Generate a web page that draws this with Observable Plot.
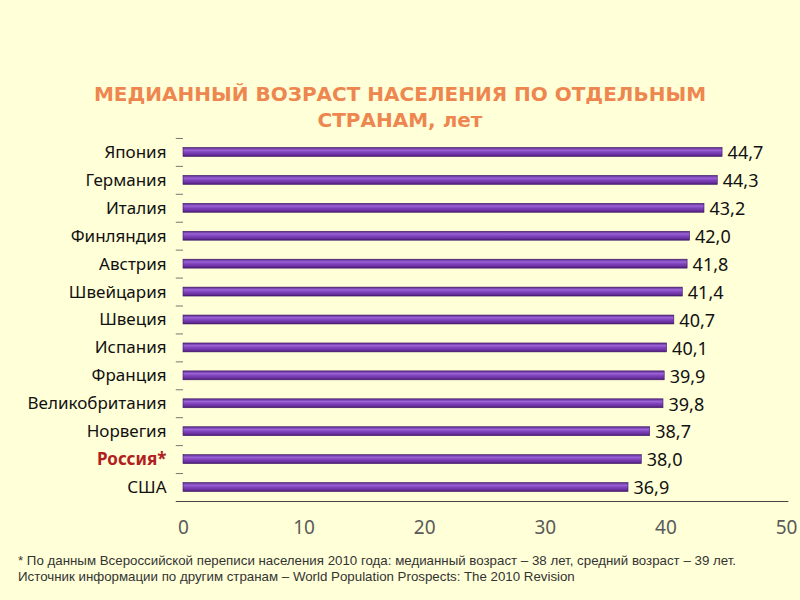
<!DOCTYPE html>
<html><head><meta charset="utf-8">
<script src="https://cdn.jsdelivr.net/npm/d3@7"></script>
<script src="https://cdn.jsdelivr.net/npm/@observablehq/plot@0.6"></script>
<style>
html,body{margin:0;padding:0;}
#wrap{position:relative;width:800px;height:600px;background:#FFFFD8;overflow:hidden;font-family:"Noto Sans",sans-serif;}
#title{position:absolute;left:0;top:81px;width:800px;text-align:center;font-family:"DejaVu Sans",sans-serif;font-weight:bold;font-size:20px;line-height:26px;color:#EE8650;}
#chart{position:absolute;left:0;top:0;}
#note{position:absolute;left:18px;top:553px;font-family:"Liberation Sans",Arial,sans-serif;font-size:13.3px;line-height:16px;color:#333;}
</style></head><body>
<div id="wrap">
<div id="title">МЕДИАННЫЙ ВОЗРАСТ НАСЕЛЕНИЯ ПО ОТДЕЛЬНЫМ<br>СТРАНАМ, лет</div>
<div id="chart"></div>
<div id="note">* По данным Всероссийской переписи населения 2010 года: медианный возраст – 38 лет, средний возраст – 39 лет.<br>Источник информации по другим странам – World Population Prospects: The 2010 Revision</div>
</div>
<script>
const countries = ["Япония","Германия","Италия","Финляндия","Австрия","Швейцария","Швеция","Испания","Франция","Великобритания","Норвегия","Россия*","США"];
const values = [44.7,44.3,43.2,42.0,41.8,41.4,40.7,40.1,39.9,39.8,38.7,38.0,36.9];
const xTicks = [0,10,20,30,40,50];
const highlight = "Россия*";

const data = countries.map((c,i)=>({country:c, value:values[i]}));
const fmt = v => v.toFixed(1).replace(".", ",");
const last = countries[countries.length-1];

const plot = Plot.plot({
  width: 800, height: 600,
  marginLeft: 183, marginRight: 14, marginTop: 138, marginBottom: 99,
  style: {background: "transparent", fontFamily: "Noto Sans, sans-serif"},
  x: {domain: [0,50], label: null},
  y: {domain: countries, padding: 0, round: false, axis: null},
  marks: [
    Plot.axisX({ticks: xTicks, tickSize: 0, tickPadding: 19, label: null, fontSize: 19, color: "#5a5a5a", tickFormat: d=>d}),
    Plot.ruleY(countries, {y: d=>d, x1: -0.6, x2: 0, dy: -14, stroke: "#777", strokeWidth: 1}),
    Plot.ruleY([last], {y: d=>d, x1: -0.6, x2: 50.2, dy: 14, stroke: "#444", strokeWidth: 1}),
    Plot.barX(data, {x: "value", y: "country", insetTop: 9.5, insetBottom: 9.5, fill: "url(#barGrad)", stroke: "#3E1766", strokeWidth: 0.6}),
    Plot.text(data, {x: "value", y: "country", text: d=>fmt(d.value), textAnchor: "start", dx: 5, dy: 1, fontSize: 18, fill: "#111"}),
    Plot.text(data.filter(d=>d.country!==highlight), {x: 0, y: "country", text: "country", textAnchor: "end", dx: -17, fontSize: 17, fill: "#111"}),
    Plot.text(data.filter(d=>d.country===highlight), {x: 0, y: "country", text: "country", textAnchor: "end", dx: -17, fontSize: 17, fill: "#B0201E", fontWeight: "bold"})
  ]
});
document.getElementById("chart").appendChild(plot);
const svg = d3.select(plot);
const defs = svg.insert("defs", ":first-child");
const g = defs.append("linearGradient").attr("id","barGrad").attr("x1",0).attr("y1",0).attr("x2",0).attr("y2",1);
[[0,"#5A2A8C"],[0.3,"#9B63D6"],[0.5,"#8246BE"],[0.8,"#6A2FA0"],[1,"#45196E"]].forEach(([o,c])=>g.append("stop").attr("offset",o).attr("stop-color",c));
</script>
</body></html>
